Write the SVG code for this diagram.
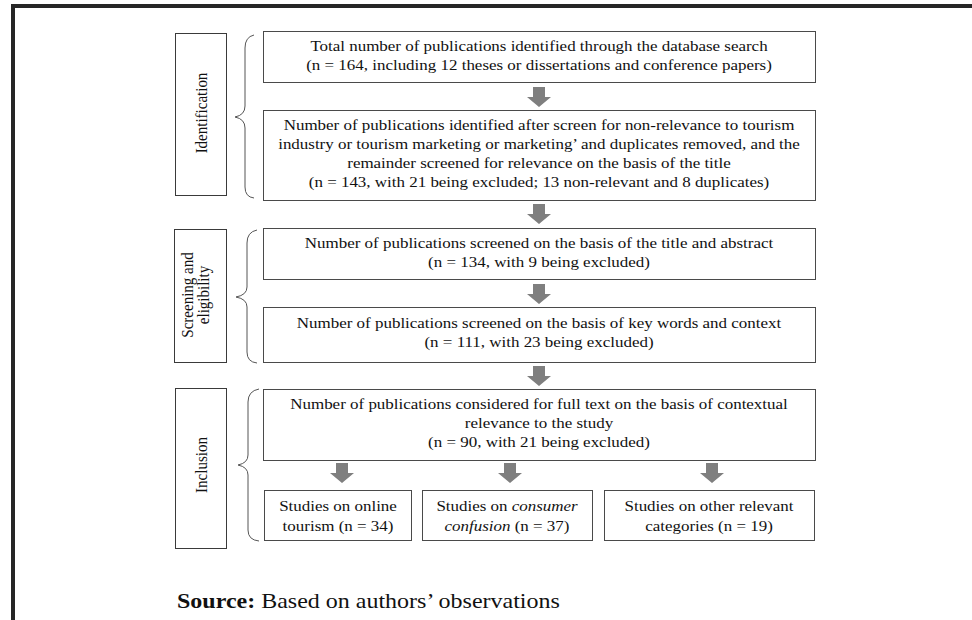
<svg xmlns="http://www.w3.org/2000/svg" xmlns:xlink="http://www.w3.org/1999/xlink" width="972" height="620" viewBox="0 0 972 620">
<style>
.box{fill:#fff;stroke:#4a4a4a;stroke-width:1}
.lbl{fill:none;stroke:#3a3a3a;stroke-width:1}
.brace{fill:none;stroke:#555;stroke-width:1}
.t{font-family:"Liberation Serif","Times New Roman",serif;font-size:14.5px;fill:#111;text-anchor:middle}
.v{font-family:"Liberation Serif","Times New Roman",serif;font-size:15px;fill:#111;text-anchor:middle}
.arr{fill:#7f7f7f}
</style>
<defs>
<path id="arrow" d="M-6,0 H6 V10 H12 L0,20 L-12,10 H-6 Z"/>
</defs>
<rect width="972" height="620" fill="#fff"/>
<path d="M13,620 V6 H975" fill="none" stroke="#262626" stroke-width="4"/>

<g id="stage-identification">
<rect class="lbl" x="175.5" y="33.5" width="51" height="162"/>
<text class="v" transform="translate(207 113) scale(1.17 1) rotate(-90)">Identification</text>
<path class="brace" d="M254,35 Q245,37 245,48 V106 Q245,115 235,117 Q245,119 245,128 V187 Q245,197 254,198"/>
</g>
<g id="stage-screening">
<rect class="lbl" x="174.5" y="229.5" width="52" height="133"/>
<text class="v" transform="translate(193 295) scale(1.17 1) rotate(-90)">Screening and</text>
<text class="v" transform="translate(209 295) scale(1.17 1) rotate(-90)">eligibility</text>
<path class="brace" d="M257,230 Q247,232 247,243 V287 Q247,295 236,297 Q247,299 247,307 V352 Q247,362 257,363"/>
</g>
<g id="stage-inclusion">
<rect class="lbl" x="175.5" y="388.5" width="51" height="160"/>
<text class="v" transform="translate(207 465) scale(1.17 1) rotate(-90)">Inclusion</text>
<path class="brace" d="M259,389 Q248,391 248,402 V455 Q248,463 238,465 Q248,467 248,475 V530 Q248,540 259,541"/>
</g>

<g id="box1">
<rect class="box" x="263.5" y="31.5" width="552" height="51"/>
<text class="t" transform="translate(539 51) scale(1.17 1)"><tspan x="0" y="0">Total number of publications identified through the database search</tspan><tspan x="0" y="19">(n = 164, including 12 theses or dissertations and conference papers)</tspan></text>
</g>
<g id="box2">
<rect class="box" x="263.5" y="110.5" width="552" height="90"/>
<text class="t" transform="translate(539 130) scale(1.17 1)"><tspan x="0" y="0">Number of publications identified after screen for non-relevance to tourism</tspan><tspan x="0" y="19">industry or tourism marketing or marketing’ and duplicates removed, and the</tspan><tspan x="0" y="38">remainder screened for relevance on the basis of the title</tspan><tspan x="0" y="57">(n = 143, with 21 being excluded; 13 non-relevant and 8 duplicates)</tspan></text>
</g>
<g id="box3">
<rect class="box" x="263.5" y="228.5" width="552" height="51"/>
<text class="t" transform="translate(539 248) scale(1.17 1)"><tspan x="0" y="0">Number of publications screened on the basis of the title and abstract</tspan><tspan x="0" y="19">(n = 134, with 9 being excluded)</tspan></text>
</g>
<g id="box4">
<rect class="box" x="263.5" y="307.5" width="552" height="55"/>
<text class="t" transform="translate(539 328) scale(1.17 1)"><tspan x="0" y="0">Number of publications screened on the basis of key words and context</tspan><tspan x="0" y="19">(n = 111, with 23 being excluded)</tspan></text>
</g>
<g id="box5">
<rect class="box" x="263.5" y="389.5" width="552" height="71"/>
<text class="t" transform="translate(539 409) scale(1.17 1)"><tspan x="0" y="0">Number of publications considered for full text on the basis of contextual</tspan><tspan x="0" y="19">relevance to the study</tspan><tspan x="0" y="38">(n = 90, with 21 being excluded)</tspan></text>
</g>
<g id="box-online">
<rect class="box" x="264.5" y="490.5" width="147" height="50"/>
<text class="t" transform="translate(338 511) scale(1.17 1)"><tspan x="0" y="0">Studies on online</tspan><tspan x="0" y="20">tourism (n = 34)</tspan></text>
</g>
<g id="box-confusion">
<rect class="box" x="422.5" y="490.5" width="170" height="50"/>
<text class="t" transform="translate(507 511) scale(1.17 1)"><tspan x="0" y="0">Studies on <tspan font-style="italic">consumer</tspan></tspan><tspan x="0" y="20"><tspan font-style="italic">confusion</tspan> (n = 37)</tspan></text>
</g>
<g id="box-other">
<rect class="box" x="604.5" y="490.5" width="210" height="50"/>
<text class="t" transform="translate(709 511) scale(1.17 1)"><tspan x="0" y="0">Studies on other relevant</tspan><tspan x="0" y="20">categories (n = 19)</tspan></text>
</g>

<g id="connectors" class="arr">
<use xlink:href="#arrow" x="539" y="87"/>
<use xlink:href="#arrow" x="539" y="204"/>
<use xlink:href="#arrow" x="539" y="284"/>
<use xlink:href="#arrow" x="539" y="366"/>
<use xlink:href="#arrow" x="342" y="463"/>
<use xlink:href="#arrow" x="510" y="463"/>
<use xlink:href="#arrow" x="712" y="463"/>
</g>

<text transform="translate(177 608) scale(1.2 1)" font-family="Liberation Serif, Times New Roman, serif" font-size="20" fill="#111"><tspan font-weight="bold">Source:</tspan> Based on authors’ observations</text>
</svg>
